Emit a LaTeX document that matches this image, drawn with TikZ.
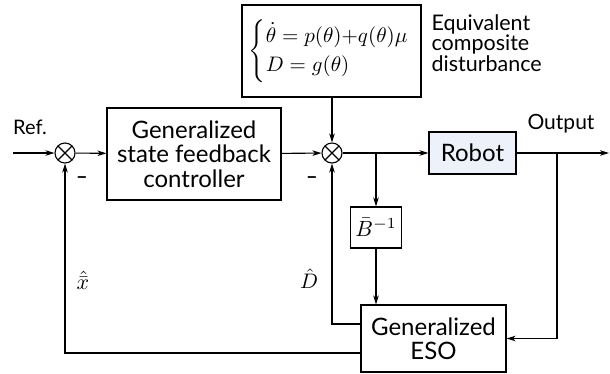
\documentclass[tikz,border=0pt]{standalone}
\usepackage{fontspec}
\usepackage{amsmath}
\usepackage{graphicx}
\setmainfont{Lato}
\usetikzlibrary{arrows.meta,calc}
\definecolor{robotfill}{RGB}{236,241,250}
\begin{document}
\begin{tikzpicture}[x=1pt,y=-1pt,
  line width=1.1pt,
  arr/.style={-{Stealth[length=9pt,width=5.5pt,inset=2.5pt]}},
  blk/.style={draw,rectangle,inner sep=0pt,align=center,font=\fontsize{24}{24.5}\selectfont},
  mblk/.style={draw,rectangle,inner sep=0pt,align=center,font=\normalsize},
  sumj/.style={draw,circle,minimum size=20pt,inner sep=0pt,
     path picture={\draw[line width=1.1pt] (path picture bounding box.north west)--(path picture bounding box.south east)
       (path picture bounding box.north east)--(path picture bounding box.south west);}},
  lbl/.style={font=\fontsize{21}{21}\selectfont},
  mlbl/.style={inner sep=1pt,font=\normalsize},
  minus/.style={font=\fontsize{20}{20}\selectfont\bfseries,inner sep=0pt}]
\useasboundingbox (0,0) rectangle (610,373);
% blocks
\node[sumj] (s1) at (65,153) {};
\node[sumj] (s2) at (332,153) {};
\node[blk,minimum width=174pt,minimum height=92pt] (ctrl) at (194,154) {Generalized\\state feedback\\controller};
\node[mblk,minimum width=179pt,minimum height=92pt] (dist) at (331.5,51)
  {\scalebox{2.1}{$\left\{\begin{array}{@{}l@{}}\dot{\theta}=p(\theta){+}q(\theta)\mu\\[2pt] D=g(\theta)\end{array}\right.$}\hspace{4pt}};
\node[blk,fill=robotfill,minimum width=87pt,minimum height=42pt] (robot) at (472.5,153) {Robot};
\node[mblk,minimum width=51pt,minimum height=41pt] (binv) at (376,227.5) {\scalebox{2.2}{$\bar{B}^{-1}$}};
\node[blk,minimum width=145pt,minimum height=67pt] (eso) at (433.5,338.5) {Generalized\\ESO};
% texts
\node[font=\fontsize{21.5}{19}\selectfont,align=left,anchor=north west,inner sep=0pt] (eqt) at (431,14) {Equivalent\\composite\\disturbance};
\node[font=\fontsize{20}{20}\selectfont] (ref) at (30,127) {Ref.};
\node[lbl] (outl) at (561,124) {Output};
\node[mlbl] (xh) at (83,280) {\scalebox{2.2}{$\hat{\bar{x}}$}};
\node[mlbl] (dh) at (309,279) {\scalebox{2.1}{$\hat{D}$}};
\node[minus] (m1) at (82,180) {–};
\node[minus] (m2) at (312,180) {–};
% coordinates
\coordinate (rin) at (13,153);
\coordinate (b1) at (376,153);
\coordinate (b2) at (557,153);
\coordinate (oend) at (609,153);
% connectors
\draw[arr] (rin) -- (s1);
\draw[arr] (s1) -- (ctrl);
\draw[arr] (ctrl) -- (s2);
\draw[arr] (dist.south -| s2) -- (s2);
\draw[arr] (s2) -- (robot);
\draw[arr] (b1) -- (binv);
\draw[arr] (binv) -- (binv |- eso.north);
\draw[arr] (robot) -- (oend);
\draw[arr] (b2) |- (eso);
\draw[arr] ([yshift=14.5pt]eso.west) -| (s2);
\draw[arr] ([yshift=-14.5pt]eso.west) -| (s1);
\end{tikzpicture}
\end{document}
